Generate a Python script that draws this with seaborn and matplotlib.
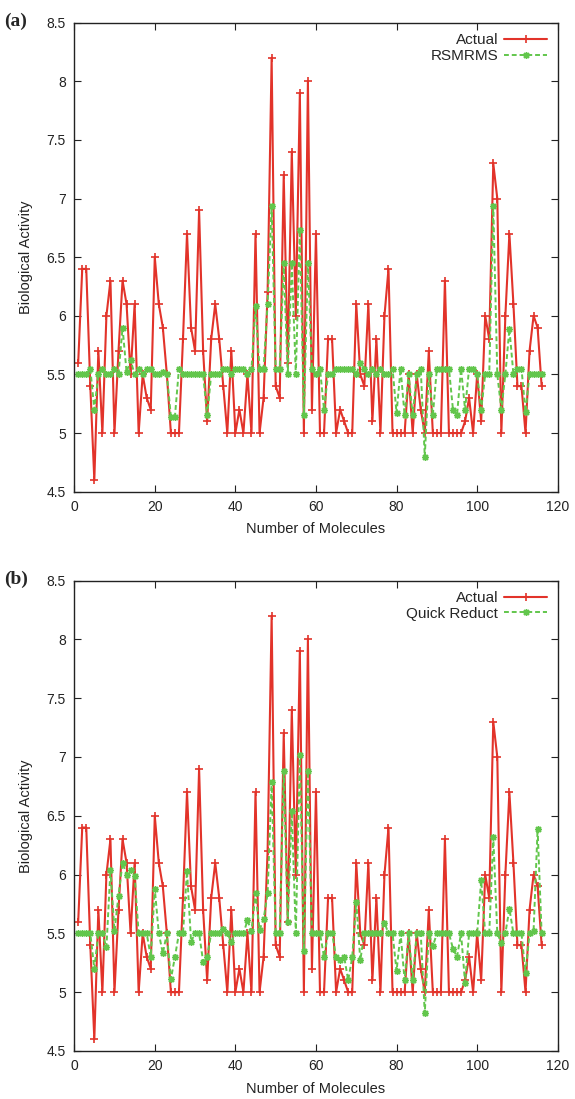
import numpy as np
import pandas as pd
import matplotlib
matplotlib.use('Agg')
import matplotlib.pyplot as plt
import seaborn as sns

# molecule index
molecules = list(range(1, 117))

# actual biological activity (same in both panels)
actual = [5.6, 6.4, 6.4, 5.4, 4.6, 5.7, 5.0, 6.0, 6.3, 5.0,
          5.7, 6.3, 6.1, 5.5, 6.1, 5.0, 5.5, 5.3, 5.2, 6.5,
          6.1, 5.9, 5.5, 5.0, 5.0, 5.0, 5.8, 6.7, 5.9, 5.7,
          6.9, 5.7, 5.1, 5.8, 6.1, 5.8, 5.4, 5.0, 5.7, 5.0,
          5.2, 5.0, 5.5, 5.0, 6.7, 5.0, 5.3, 6.2, 8.2, 5.4,
          5.3, 7.2, 5.6, 7.4, 6.0, 7.9, 5.0, 8.0, 5.2, 6.7,
          5.0, 5.0, 5.8, 5.8, 5.0, 5.2, 5.1, 5.0, 5.0, 6.1,
          5.5, 5.4, 6.1, 5.1, 5.8, 5.0, 6.0, 6.4, 5.0, 5.0,
          5.0, 5.0, 5.5, 5.0, 5.5, 5.2, 5.0, 5.7, 5.0, 5.0,
          5.0, 6.3, 5.0, 5.0, 5.0, 5.0, 5.1, 5.3, 5.0, 5.5,
          5.1, 6.0, 5.8, 7.3, 7.0, 5.0, 6.0, 6.7, 6.1, 5.4,
          5.4, 5.0, 5.7, 6.0, 5.9, 5.4]

# predictions, panel (a)
rsmrms = [5.5, 5.5, 5.5, 5.55, 5.2, 5.5, 5.55, 5.5, 5.5, 5.55,
          5.5, 5.9, 5.52, 5.62, 5.5, 5.55, 5.5, 5.55, 5.55, 5.5,
          5.5, 5.52, 5.5, 5.14, 5.14, 5.55, 5.5, 5.5, 5.5, 5.5,
          5.5, 5.5, 5.15, 5.5, 5.5, 5.5, 5.55, 5.55, 5.5, 5.55,
          5.55, 5.55, 5.5, 5.55, 6.08, 5.55, 5.55, 6.1, 6.94, 5.55,
          5.55, 6.45, 5.5, 6.45, 5.5, 6.73, 5.15, 6.45, 5.55, 5.5,
          5.55, 5.2, 5.5, 5.5, 5.55, 5.55, 5.55, 5.55, 5.55, 5.5,
          5.6, 5.55, 5.5, 5.55, 5.5, 5.55, 5.5, 5.5, 5.55, 5.17,
          5.55, 5.15, 5.5, 5.15, 5.5, 5.55, 4.8, 5.5, 5.15, 5.55,
          5.55, 5.55, 5.55, 5.2, 5.15, 5.55, 5.2, 5.55, 5.55, 5.5,
          5.2, 5.5, 5.5, 6.94, 5.5, 5.2, 5.5, 5.89, 5.5, 5.55,
          5.55, 5.18, 5.5, 5.5, 5.5, 5.5]

# predictions, panel (b)
quick_reduct = [5.5, 5.5, 5.5, 5.5, 5.2, 5.5, 5.5, 5.38, 6.04, 5.52,
                5.82, 6.1, 6.0, 6.04, 5.99, 5.5, 5.5, 5.5, 5.3, 5.88,
                5.5, 5.33, 5.5, 5.11, 5.3, 5.5, 5.5, 6.03, 5.43, 5.5,
                5.5, 5.26, 5.3, 5.5, 5.5, 5.5, 5.54, 5.5, 5.43, 5.5,
                5.5, 5.5, 5.61, 5.52, 5.84, 5.53, 5.62, 5.84, 6.79, 5.5,
                5.5, 6.88, 5.6, 6.54, 5.5, 7.02, 5.35, 6.88, 5.5, 5.5,
                5.5, 5.3, 5.5, 5.5, 5.3, 5.27, 5.3, 5.1, 5.3, 5.77,
                5.27, 5.5, 5.5, 5.5, 5.5, 5.5, 5.59, 5.5, 5.5, 5.18,
                5.5, 5.1, 5.5, 5.1, 5.5, 5.5, 4.82, 5.5, 5.39, 5.5,
                5.5, 5.5, 5.5, 5.37, 5.3, 5.5, 5.08, 5.5, 5.5, 5.5,
                5.95, 5.5, 5.5, 6.32, 5.5, 5.42, 5.5, 5.71, 5.5, 5.5,
                5.5, 5.16, 5.5, 5.52, 6.39, 5.5]

panels = [('(a)', 'RSMRMS', rsmrms), ('(b)', 'Quick Reduct', quick_reduct)]

sns.set_style('ticks')
plt.rcParams['font.family'] = ['Liberation Sans', 'DejaVu Sans']

red = '#e2332a'
green = '#62c64c'

fig = plt.figure(figsize=(5.75, 10.99), dpi=100)
boxes = [[0.129, 0.5526, 0.841, 0.4268], [0.129, 0.0437, 0.841, 0.428]]

for (tag, name, pred), box in zip(panels, boxes):
    ax = fig.add_axes(box)
    df = pd.DataFrame({'molecule': molecules, 'actual': actual, 'pred': pred})
    sns.lineplot(data=df, x='molecule', y='actual', ax=ax, color=red,
                 linewidth=1.5, marker='+', markersize=6, markeredgewidth=1.2,
                 markeredgecolor=red, label='Actual')
    sns.lineplot(data=df, x='molecule', y='pred', ax=ax, color=green,
                 linewidth=1.4, linestyle=(0, (2.5, 1.5)), marker=(8, 2, 0),
                 markersize=5, markeredgewidth=1.0, markeredgecolor=green,
                 label=name)
    ax.set_xlim(0, 120)
    ax.set_ylim(4.5, 8.5)
    ax.set_xticks(np.arange(0, 121, 20))
    ax.set_yticks(np.arange(4.5, 8.51, 0.5))
    ax.set_yticklabels(['4.5', '5', '5.5', '6', '6.5', '7', '7.5', '8', '8.5'])
    ax.tick_params(direction='in', length=5, width=0.8, top=True, right=True,
                   labelsize=10, colors='#222222', pad=6)
    for s in ax.spines.values():
        s.set_linewidth(1.0)
        s.set_color('#222222')
    ax.set_xlabel('Number of Molecules', fontsize=10.5, color='#222222', labelpad=6)
    ax.set_ylabel('Biological Activity', fontsize=10.5, color='#222222', labelpad=10)
    ax.legend(loc='upper right', frameon=False, markerfirst=False, fontsize=11,
              handlelength=2.8, handletextpad=0.4, labelspacing=0.1,
              borderaxespad=0.3)
    fig.text(0.008, box[1] + box[3] + 0.001, tag, fontsize=14, fontweight='bold',
             family='Liberation Serif', va='center', ha='left')

fig.savefig('out.png', dpi=100)
